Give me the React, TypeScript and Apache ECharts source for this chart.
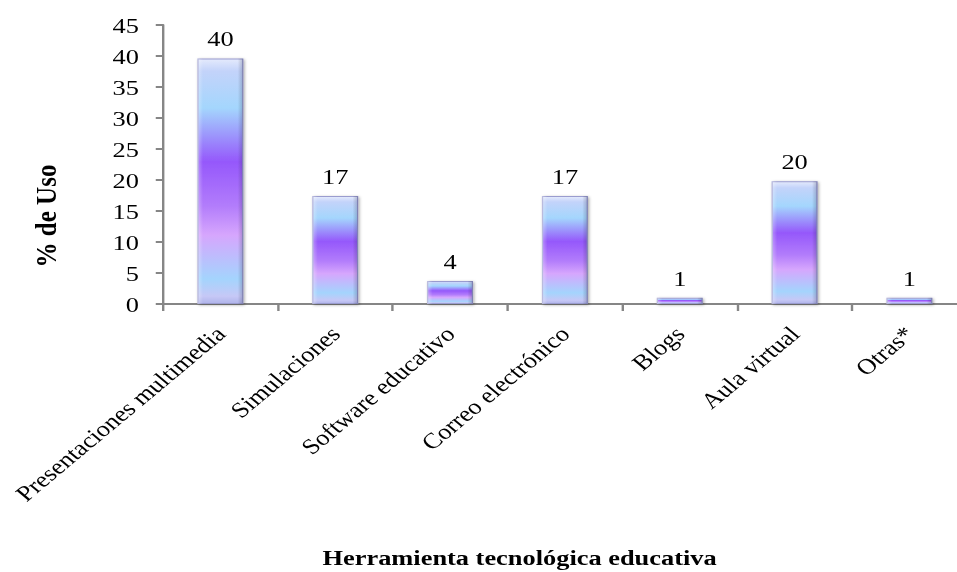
import React, { useEffect, useRef } from "react";
import * as echarts from "echarts";

const categories = [
  "Presentaciones multimedia",
  "Simulaciones",
  "Software educativo",
  "Correo electrónico",
  "Blogs",
  "Aula virtual",
  "Otras*",
];
const usage = [39.6, 17.4, 3.7, 17.4, 1.0, 19.8, 1.0];
const yTicks = { min: 0, max: 45, interval: 5 };
const yTitle = "% de Uso";
const xTitle = "Herramienta tecnológica educativa";

const FONT = "'Liberation Serif', 'Times New Roman', serif";
const STRETCH = 1.2; // the reference is stretched horizontally

export default function App() {
  const ref = useRef<HTMLDivElement>(null);
  useEffect(() => {
    if (!ref.current) return;
    const chart = echarts.init(ref.current, undefined, { renderer: "svg" });
    const barFill = new echarts.graphic.LinearGradient(0, 0, 0, 1, [
      { offset: 0, color: "#e4eafc" },
      { offset: 0.05, color: "#c3d3fa" },
      { offset: 0.2, color: "#a4d6fd" },
      { offset: 0.42, color: "#9558fb" },
      { offset: 0.6, color: "#b27cfb" },
      { offset: 0.72, color: "#d6a6fd" },
      { offset: 0.9, color: "#a4d4fd" },
      { offset: 0.97, color: "#c6c8f6" },
      { offset: 1, color: "#b0b4ea" },
    ]);
    const overlay = new echarts.graphic.LinearGradient(0, 0, 1, 0, [
      { offset: 0, color: "rgba(255,255,255,0.35)" },
      { offset: 0.12, color: "rgba(255,255,255,0.0)" },
      { offset: 0.88, color: "rgba(0,0,0,0.0)" },
      { offset: 1, color: "rgba(40,40,90,0.25)" },
    ]);
    chart.setOption({
      animation: false,
      grid: { left: 135.8, top: 25, bottom: 268, right: 14.3, containLabel: false },
      xAxis: {
        type: "category",
        data: categories,
        boundaryGap: true,
        axisLine: { lineStyle: { color: "#868686", width: 2 } },
        axisTick: { show: true, length: 7, lineStyle: { color: "#868686", width: 2 } },
        axisLabel: {
          interval: 0,
          rotate: 45,
          margin: 26,
          color: "#000",
          fontFamily: FONT,
          fontSize: 22,
        },
      },
      yAxis: {
        type: "value",
        min: yTicks.min,
        max: yTicks.max,
        interval: yTicks.interval,
        splitLine: { show: false },
        axisLine: { show: true, lineStyle: { color: "#868686", width: 2 } },
        axisTick: { show: true, length: 6, lineStyle: { color: "#868686", width: 2 } },
        axisLabel: {
          margin: 20,
          color: "#000",
          fontFamily: FONT,
          fontSize: 22,
        },
      },
      series: [
        {
          type: "bar",
          data: usage,
          barWidth: "40%",
          itemStyle: {
            color: barFill,
            borderColor: "#9a9ccf",
            borderWidth: 1,
            shadowColor: "rgba(0,0,0,0.35)",
            shadowBlur: 3,
            shadowOffsetX: 1,
            shadowOffsetY: 1,
          },
          label: {
            show: true,
            position: "top",
            distance: 9,
            color: "#000",
            fontFamily: FONT,
            fontSize: 22,
            formatter: (p: any) => String(Math.round(p.value)),
          },
        },
        {
          type: "bar",
          data: usage,
          barWidth: "40%",
          barGap: "-100%",
          silent: true,
          itemStyle: { color: overlay },
        },
      ],
      graphic: [
        {
          type: "text",
          x: 38.2,
          y: 216,
          rotation: Math.PI / 2,
          style: {
            text: yTitle,
            fontFamily: FONT,
            fontSize: 25,
            fontWeight: "bold",
            fill: "#000",
            align: "center",
            verticalAlign: "middle",
          },
        },
        {
          type: "text",
          x: 433,
          y: 557,
          style: {
            text: xTitle,
            fontFamily: FONT,
            fontSize: 22,
            fontWeight: "bold",
            fill: "#000",
            align: "center",
            verticalAlign: "middle",
          },
        },
      ],
    });
    return () => chart.dispose();
  }, []);
  return (
    <div
      style={{
        position: "absolute",
        left: 0,
        top: 0,
        width: 957,
        height: 572,
        overflow: "hidden",
        background: "#fff",
      }}
    >
      <div
        ref={ref}
        style={{
          width: 820,
          height: 572,
          transform: `scaleX(${STRETCH})`,
          transformOrigin: "0 0",
        }}
      />
    </div>
  );
}
